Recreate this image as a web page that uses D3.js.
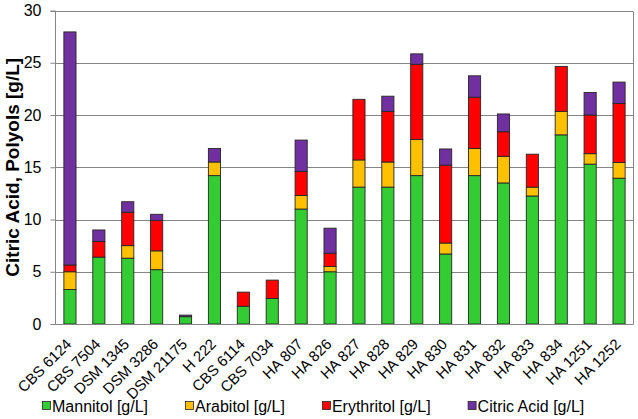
<!DOCTYPE html>
<html>
<head>
<meta charset="utf-8">
<script src="https://cdn.jsdelivr.net/npm/d3@7"></script>
<style>
  html, body { margin: 0; padding: 0; background: #fff; }
  svg { display: block; font-family: "Liberation Sans", Arial, sans-serif; }
</style>
</head>
<body>
<svg id="chart" width="638" height="419"></svg>
<script>
const categories = ["CBS 6124","CBS 7504","DSM 1345","DSM 3286","DSM 21175","H 222","CBS 6114","CBS 7034","HA 807","HA 826","HA 827","HA 828","HA 829","HA 830","HA 831","HA 832","HA 833","HA 834","HA 1251","HA 1252"];
const mannitol   = [3.3, 6.4, 6.3, 5.2, 0.7, 14.2, 1.7, 2.45, 11.0, 5.0, 13.1, 13.1, 14.2, 6.7, 14.2, 13.5, 12.25, 18.1, 15.3, 13.95];
const arabitol   = [1.7, 0, 1.2, 1.8, 0, 1.3, 0, 0, 1.3, 0.5, 2.6, 2.4, 3.45, 1.05, 2.6, 2.55, 0.85, 2.25, 1.0, 1.5];
const erythritol = [0.65, 1.5, 3.2, 2.9, 0, 0, 1.35, 1.75, 2.3, 1.27, 5.8, 4.85, 7.2, 7.45, 4.9, 2.35, 3.15, 4.3, 3.7, 5.65];
const citricAcid = [22.3, 1.1, 1.0, 0.6, 0.15, 1.3, 0, 0, 3.0, 2.4, 0, 1.45, 1.0, 1.55, 2.05, 1.7, 0, 0, 2.15, 2.05];
const seriesNames = ["Mannitol [g/L]", "Arabitol [g/L]", "Erythritol [g/L]", "Citric Acid [g/L]"];
const seriesColors = ["#33cc33", "#ffc000", "#ff0000", "#7030a0"];
const yTicks = [0, 5, 10, 15, 20, 25, 30];
const yTitle = "Citric Acid, Polyols [g/L]";

const svg = d3.select("#chart");
const mLeft = 55, mRight = 633, mTop = 10.5, mBottom = 324;

const x = d3.scaleBand().domain(categories).range([mLeft, mRight]).paddingInner(0.58).paddingOuter(0.29);
const y = d3.scaleLinear().domain([0, 30]).range([mBottom, mTop]);

// gridlines
svg.append("g").selectAll("line").data(yTicks).join("line")
  .attr("x1", mLeft).attr("x2", mRight)
  .attr("y1", d => Math.round(y(d)) + 0.5).attr("y2", d => Math.round(y(d)) + 0.5)
  .attr("stroke", "#858585").attr("stroke-width", 1);

// right border
svg.append("line").attr("x1", mRight + 0.5).attr("x2", mRight + 0.5)
  .attr("y1", Math.round(y(30)) + 0.5).attr("y2", Math.round(y(0)) + 0.5)
  .attr("stroke", "#858585");

// data stack
const rows = categories.map((c, i) => ({cat: c, s0: mannitol[i], s1: arabitol[i], s2: erythritol[i], s3: citricAcid[i]}));
const stack = d3.stack().keys(["s0","s1","s2","s3"])(rows);

svg.append("g").selectAll("g").data(stack).join("g")
  .attr("fill", (d, i) => seriesColors[i])
  .selectAll("rect").data(d => d.filter(v => v[1] - v[0] > 0)).join("rect")
  .attr("x", d => x(d.data.cat) + 0.5)
  .attr("width", x.bandwidth())
  .attr("y", d => y(d[1]))
  .attr("height", d => y(d[0]) - y(d[1]))
  .attr("stroke", "#262626").attr("stroke-width", 0.9);

// y axis
const yAxis = svg.append("g").attr("transform", `translate(${mLeft + 0.5},0)`)
  .call(d3.axisLeft(y).tickValues(yTicks).tickSize(5).tickPadding(9));
yAxis.select(".domain").attr("stroke", "#858585").attr("d", `M-5,${Math.round(y(30))+0.5}H0V${Math.round(y(0))+0.5}`);
yAxis.selectAll(".tick line").attr("stroke", "#858585");
yAxis.selectAll(".tick text").attr("font-size", 16).attr("fill", "#000")
  .attr("font-family", '"Liberation Sans", Arial, sans-serif');

// x axis line
svg.append("line").attr("x1", mLeft).attr("x2", mRight + 0.5)
  .attr("y1", Math.round(y(0)) + 0.5).attr("y2", Math.round(y(0)) + 0.5)
  .attr("stroke", "#858585");

// x labels
svg.append("g").selectAll("text").data(categories).join("text")
  .attr("transform", d => `translate(${x(d) + x.bandwidth() / 2 + 3},${mBottom + 21}) rotate(-45)`)
  .attr("text-anchor", "end")
  .attr("font-size", 15).attr("fill", "#000")
  .text(d => d);

// y title
svg.append("text")
  .attr("transform", `translate(18.5,${(mTop + mBottom) / 2}) rotate(-90)`)
  .attr("text-anchor", "middle")
  .attr("font-size", 19).attr("font-weight", "bold").attr("fill", "#000")
  .text(yTitle);

// legend
const legend = svg.append("g");
let lx = 42;
seriesNames.forEach((name, i) => {
  legend.append("rect").attr("x", lx + 0.5).attr("y", 401.5).attr("width", 8).attr("height", 8)
    .attr("fill", seriesColors[i]).attr("stroke", "#262626").attr("stroke-width", 0.8);
  const t = legend.append("text").attr("x", lx + 10).attr("y", 411.5)
    .attr("font-size", 16).attr("fill", "#000").text(name);
  lx += 10 + t.node().getComputedTextLength() + 37;
});
</script>
</body>
</html>
